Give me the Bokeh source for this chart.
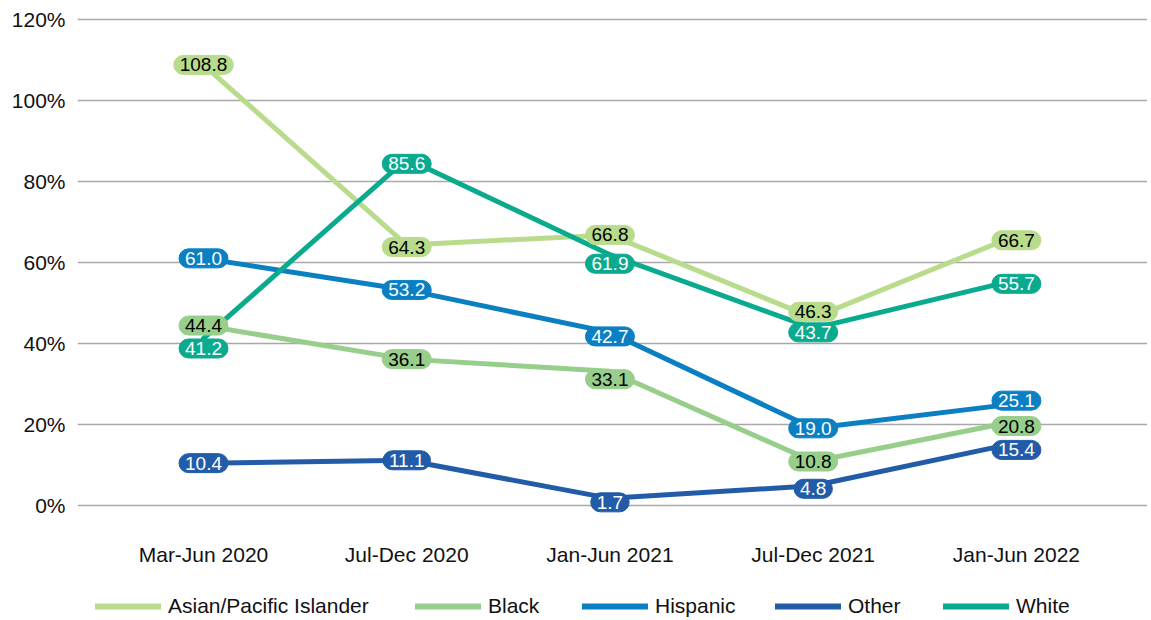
from bokeh.plotting import figure
from bokeh.layouts import column
from bokeh.models import Range1d, Legend, LegendItem, FixedTicker, ColumnDataSource
from bokeh.core.properties import value
from bokeh.embed import file_html
from bokeh.resources import INLINE

periods = ["Mar-Jun 2020", "Jul-Dec 2020", "Jan-Jun 2021", "Jul-Dec 2021", "Jan-Jun 2022"]
series_names = ["Asian/Pacific Islander", "Black", "Hispanic", "Other", "White"]
asian = [108.8, 64.3, 66.8, 46.3, 66.7]
black = [44.4, 36.1, 33.1, 10.8, 20.8]
hispanic = [61.0, 53.2, 42.7, 19.0, 25.1]
other = [10.4, 11.1, 1.7, 4.8, 15.4]
white = [41.2, 85.6, 61.9, 43.7, 55.7]
y_ticks = [0, 20, 40, 60, 80, 100, 120]

# styling
colors = ["#b9dc8c", "#97ce8b", "#0a80c3", "#225ca8", "#0aaa8f"]
text_colors = ["#000000", "#000000", "#ffffff", "#ffffff", "#ffffff"]
label_dy = [  # pixel nudges of the value pills (positive = down)
    [0, 2, 0, -6, 5],
    [0, 0, 8, 0, 5],
    [0, 0, 4, 0, -3],
    [0, 0, 4, 3, 7],
    [10, 5, 9, 4, 4],
]
FRAME_LEFT = 77
legend_x = [95, 415, 582, 775, 943]   # page x where each legend entry starts
FONT = "Liberation Sans"

all_series = [asian, black, hispanic, other, white]
xs = list(range(len(periods)))

p = figure(width=1147, height=574, output_backend="svg", toolbar_location=None,
           x_range=Range1d(-0.62, 4.645), y_range=Range1d(-6, 122),
           min_border_left=FRAME_LEFT, min_border_right=0, min_border_top=11, min_border_bottom=45)
p.outline_line_color = None
p.background_fill_color = "white"

# axes
p.xaxis.ticker = FixedTicker(ticks=xs)
p.xaxis.major_label_overrides = {i: t for i, t in enumerate(periods)}
p.yaxis.ticker = FixedTicker(ticks=y_ticks)
p.yaxis.major_label_overrides = {t: f"{t}%" for t in y_ticks}
for ax in (p.xaxis[0], p.yaxis[0]):
    ax.axis_line_color = None
    ax.major_tick_line_color = None
    ax.minor_tick_line_color = None
    ax.major_label_text_font = FONT
    ax.major_label_text_color = "#111111"
p.xaxis.major_label_text_font_size = "21px"
p.yaxis.major_label_text_font_size = "21px"
p.xaxis.major_label_standoff = 7
p.yaxis.major_label_standoff = 6
p.xgrid.grid_line_color = None
p.ygrid.ticker = FixedTicker(ticks=y_ticks)
p.ygrid.grid_line_color = "#a8a8a8"
p.ygrid.grid_line_width = 1.4

for vals, col in zip(all_series, colors):
    p.line(xs, vals, line_color=col, line_width=5, line_cap="round", line_join="round")

for vals, col, tcol, dys in zip(all_series, colors, text_colors, label_dy):
    src = ColumnDataSource(dict(x=xs, y=vals, t=[f"{v:.1f}" for v in vals], dy=dys))
    p.text(x="x", y="y", text="t", y_offset="dy", source=src,
           text_align="center", text_baseline="middle",
           text_font=value(FONT), text_font_size="19px", text_color=tcol,
           background_fill_color=col, border_line_color=col,
           padding=[6, 3], border_radius=12)

# legend strip
lg = figure(width=1147, height=44, output_backend="svg", toolbar_location=None,
            x_range=Range1d(0, 1), y_range=Range1d(0, 1),
            x_axis_location=None, y_axis_location=None,
            min_border_left=0, min_border_right=0, min_border_top=0, min_border_bottom=0)
lg.outline_line_color = None
lg.xgrid.grid_line_color = None
lg.ygrid.grid_line_color = None
for name, col, lx in zip(series_names, colors, legend_x):
    r = lg.line(x=[-10, -9], y=[-10, -10], line_color=col, line_width=6, line_cap="round")
    leg = Legend(items=[LegendItem(label=name, renderers=[r])],
                 orientation="horizontal", location=(lx - FRAME_LEFT, 0),
                 glyph_width=66, glyph_height=20, label_standoff=7,
                 label_text_font=FONT, label_text_font_size="21px", label_text_color="#111111",
                 border_line_color=None, background_fill_alpha=0, padding=0, margin=0)
    lg.add_layout(leg)

layout = column(p, lg, spacing=0)
open("out.html", "w").write(file_html(layout, INLINE))
